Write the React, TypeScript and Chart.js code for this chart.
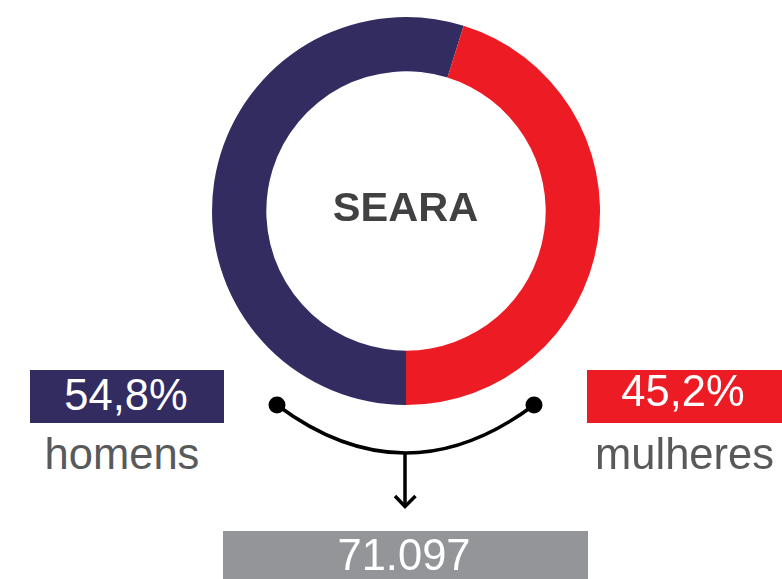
import React, { useEffect, useRef } from "react";
import { Chart, registerables } from "chart.js";

Chart.register(...registerables);

const title = "SEARA";
const categories = ["homens", "mulheres"];
const shares = [54.8, 45.2];
const total = 71097;
const colors = ["#332c61", "#ed1c24"];

const FONT = '"Liberation Sans", Arial, Helvetica, sans-serif';

const fmtPct = (v: number) => v.toFixed(1).replace(".", ",") + "%";
const fmtTotal = (v: number) => v.toString().replace(/\B(?=(\d{3})+(?!\d))/g, ".");

function Text(props: {
  x: number;
  baseline: number;
  size: number;
  color: string;
  bold?: boolean;
  children: React.ReactNode;
}) {
  const { x, baseline, size, color, bold, children } = props;
  return (
    <div
      style={{
        position: "absolute",
        left: x,
        top: baseline - 0.8465 * size,
        transform: "translateX(-50%)",
        fontFamily: FONT,
        fontSize: size,
        lineHeight: `${size}px`,
        fontWeight: bold ? 700 : 400,
        color,
        whiteSpace: "nowrap",
      }}
    >
      {children}
    </div>
  );
}

function Box(props: { left: number; top: number; width: number; height: number; color: string }) {
  const { left, top, width, height, color } = props;
  return (
    <div style={{ position: "absolute", left, top, width, height, background: color }} />
  );
}

export default function App() {
  const canvasRef = useRef<HTMLCanvasElement | null>(null);

  useEffect(() => {
    if (!canvasRef.current) return;
    const chart = new Chart(canvasRef.current, {
      type: "doughnut",
      data: {
        labels: categories,
        datasets: [
          {
            data: shares,
            backgroundColor: colors,
            borderWidth: 0,
            hoverOffset: 0,
          },
        ],
      },
      options: {
        animation: false,
        responsive: false,
        maintainAspectRatio: false,
        rotation: 180,
        cutout: "72%",
        layout: { padding: 0 },
        plugins: {
          legend: { display: false },
          tooltip: { enabled: false },
        },
        events: [],
      },
    });
    return () => chart.destroy();
  }, []);

  return (
    <div
      style={{
        position: "absolute",
        left: 0,
        top: 0,
        width: 782,
        height: 579,
        overflow: "hidden",
        background: "#ffffff",
      }}
    >
      <canvas
        ref={canvasRef}
        width={388}
        height={388}
        style={{ position: "absolute", left: 212, top: 17, width: 388, height: 388 }}
      />
      <Text x={405.5} baseline={221} size={41.5} color="#414042" bold>
        {title}
      </Text>

      <Box left={30} top={370} width={194} height={53} color={colors[0]} />
      <Text x={126} baseline={411} size={43.5} color="#ffffff">
        {fmtPct(shares[0])}
      </Text>
      <Text x={122} baseline={470} size={43.5} color="#58595b">
        {categories[0]}
      </Text>

      <Box left={587} top={370} width={195} height={53} color={colors[1]} />
      <Text x={683} baseline={406.5} size={43.5} color="#ffffff">
        {fmtPct(shares[1])}
      </Text>
      <Text x={684.5} baseline={470} size={43.5} color="#58595b">
        {categories[1]}
      </Text>

      <svg
        width={782}
        height={579}
        style={{ position: "absolute", left: 0, top: 0 }}
      >
        <path
          d="M 277 405 Q 405.5 501 534 405"
          fill="none"
          stroke="#000"
          strokeWidth={3.5}
        />
        <circle cx={277} cy={405} r={8.5} fill="#000" />
        <circle cx={534} cy={405} r={8.5} fill="#000" />
        <line x1={405} y1={453} x2={405} y2={506} stroke="#000" strokeWidth={3.5} />
        <polyline
          points="395,496 405,506.5 415.5,496"
          fill="none"
          stroke="#000"
          strokeWidth={3.5}
        />
      </svg>

      <Box left={223} top={531} width={365} height={60} color="#939598" />
      <Text x={404} baseline={571} size={43.5} color="#ffffff">
        {fmtTotal(total)}
      </Text>
    </div>
  );
}
